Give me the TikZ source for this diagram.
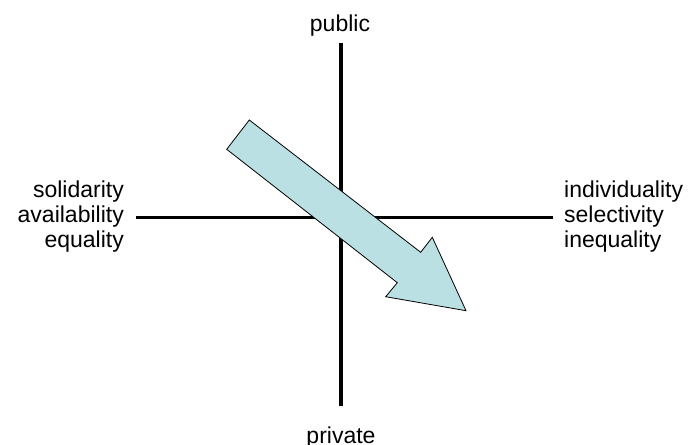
\documentclass[tikz,border=0pt]{standalone}
\usepackage{fontspec}
\setmainfont{Liberation Sans}
\definecolor{arrowfill}{RGB}{187,224,227}
\begin{document}
\begin{tikzpicture}[x=1pt,y=-1pt,
  lbl/.style={inner sep=0pt,font=\fontsize{23}{25}\selectfont},
  axis/.style={line width=3.6pt},
  bigarrow/.style={fill=arrowfill,draw=black,line width=0.8pt,line join=miter}]
\useasboundingbox (0,0) rectangle (689,445);
% axis ends
\coordinate (top) at (341,43);
\coordinate (bot) at (341,406);
\coordinate (lft) at (136,217.5);
\coordinate (rgt) at (553,217.5);
\draw[axis] (top) -- (bot);
\draw[axis] (lft) -- (rgt);
% labels
\node[lbl,anchor=base] (pub) at (340,31.5) {public};
\node[lbl,anchor=base] (priv) at (341,443.5) {private};
\node[lbl,anchor=base east] (l1) at (124,197) {solidarity};
\node[lbl,anchor=base east] (l2) at (124,222) {availability};
\node[lbl,anchor=base east] (l3) at (124,247) {equality};
\node[lbl,anchor=base west] (r1) at (564,197.5) {individuality};
\node[lbl,anchor=base west] (r2) at (564,222.5) {selectivity};
\node[lbl,anchor=base west] (r3) at (564,247.5) {inequality};
% block arrow
\draw[bigarrow] (249.3,120) -- (226.7,149.3) -- (397.3,282.7) -- (385.7,296.7)
  -- (466,310.7) -- (432.3,237.3) -- (420.7,252.3) -- cycle;
\end{tikzpicture}
\end{document}
